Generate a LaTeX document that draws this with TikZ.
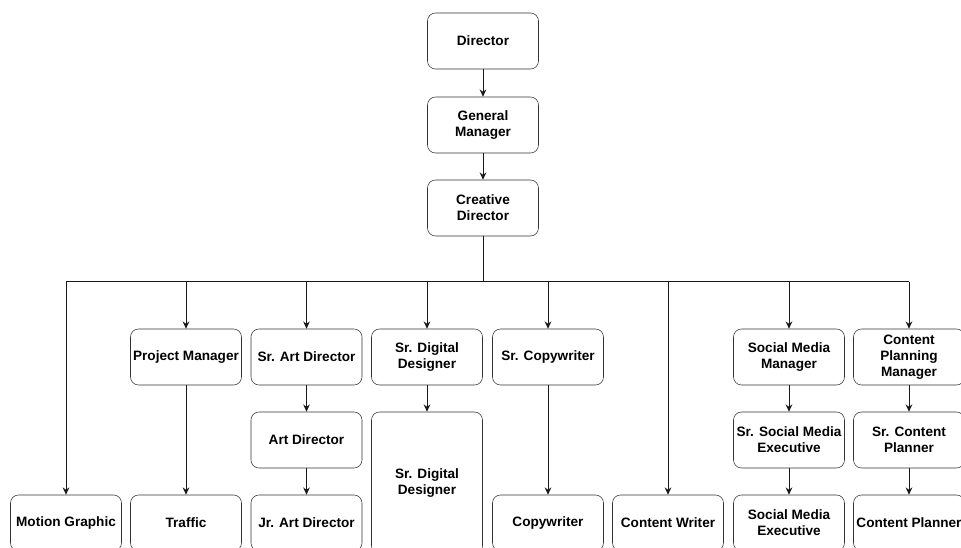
\documentclass[tikz,border=0pt]{standalone}
\usepackage{fontspec}
\setmainfont{Liberation Sans}
\usetikzlibrary{arrows.meta}

\begin{document}
\begin{tikzpicture}[
    x=0.75pt, y=-0.75pt,
    role/.style={draw=black!80, rounded corners=6pt, fill=white, minimum width=83.25pt, minimum height=42pt, align=center, inner xsep=0pt, font=\fontsize{10.2}{12}\selectfont\bfseries},
    arr/.style={-{Stealth[length=5.5pt,width=5pt]}, line width=0.75pt, black!90},
    wire/.style={line width=0.75pt, black!90}
]
\useasboundingbox[fill=white] (0,0) rectangle (961,548);

% top of the chart
\node[role] (dir) at (483,41) {Director};
\node[role] (gm)  at (483,125) {General\\Manager};
\node[role] (cd)  at (483,208) {Creative\\Director};

% first row under the creative director
\node[role] (pm)   at (186,357) {Project Manager};
\node[role] (srad) at (306.5,357) {Sr. Art Director};
\node[role] (srdd) at (427,357) {Sr. Digital\\Designer};
\node[role] (srcw) at (548,357) {Sr. Copywriter};
\node[role] (smm)  at (789,357) {Social Media\\Manager};
\node[role] (cpm)  at (909,357) {Content\\Planning\\Manager};

% second row
\node[role] (ad)    at (306.5,440) {Art Director};
\node[role, minimum height=106.5pt] (dd) at (427,483) {Sr. Digital\\Designer};
\node[role] (srsme) at (789,440) {Sr. Social Media\\Executive};
\node[role] (srcp)  at (909,440) {Sr. Content\\Planner};

% bottom row
\node[role] (mg)   at (66,523) {Motion Graphic};
\node[role] (tr)   at (186,523) {Traffic};
\node[role] (jrad) at (306.5,523) {Jr. Art Director};
\node[role] (cw)   at (548,523) {Copywriter};
\node[role] (ctw)  at (668,523) {Content Writer};
\node[role] (sme)  at (789,523) {Social Media\\Executive};
\node[role] (cp)   at (909,523) {Content Planner};

\draw[arr] (dir) -- (gm);
\draw[arr] (gm) -- (cd);

% bus from the creative director
\coordinate (bus) at (483,282);
\draw[wire] (cd) -- (bus);
\draw[wire] (mg.north |- bus) -- (cpm.north |- bus);
\foreach \n in {mg,pm,srad,srdd,srcw,ctw,smm,cpm}
    \draw[arr] (\n.north |- bus) -- (\n.north);

\draw[arr] (pm) -- (tr);
\draw[arr] (srad) -- (ad);
\draw[arr] (ad) -- (jrad);
\draw[arr] (srdd) -- (dd);
\draw[arr] (srcw) -- (cw);
\draw[arr] (smm) -- (srsme);
\draw[arr] (srsme) -- (sme);
\draw[arr] (cpm) -- (srcp);
\draw[arr] (srcp) -- (cp);
\end{tikzpicture}
\end{document}
